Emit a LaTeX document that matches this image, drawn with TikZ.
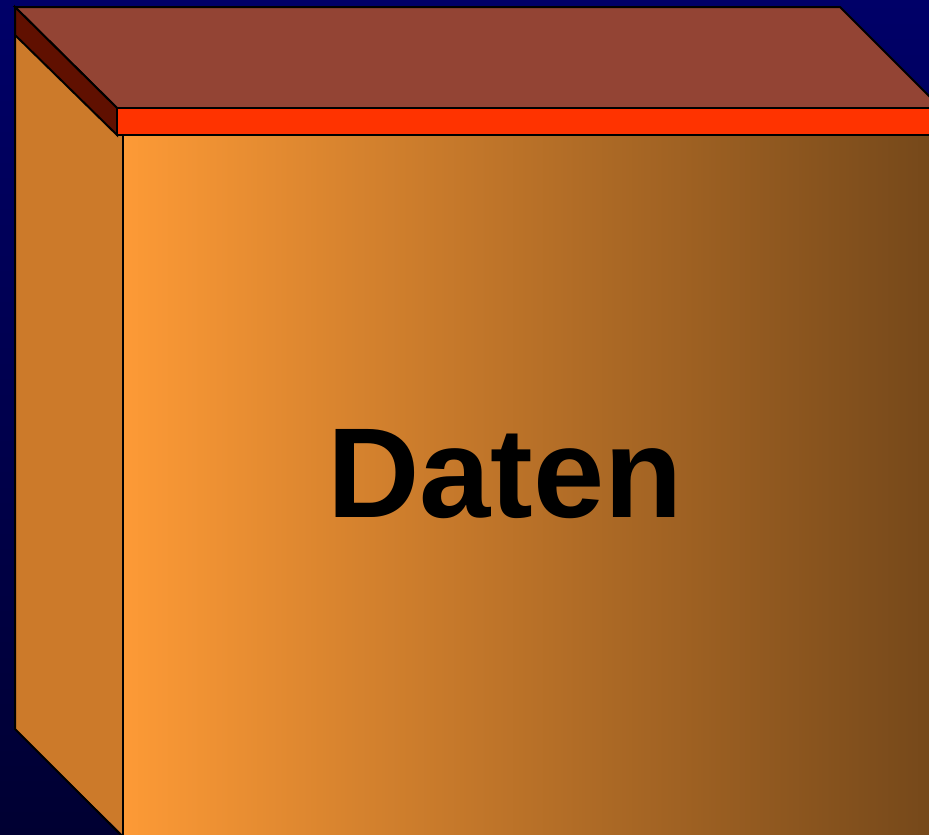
\documentclass[tikz,border=0pt]{standalone}
\usepackage{fontspec}
\setmainfont{Liberation Sans}
\definecolor{bgtop}{RGB}{0,0,104}
\definecolor{bgbot}{RGB}{0,0,50}
\definecolor{topface}{RGB}{147,68,52}
\definecolor{darkstrip}{RGB}{96,16,0}
\definecolor{redstrip}{RGB}{255,51,0}
\definecolor{sideface}{RGB}{204,122,42}
\definecolor{frontL}{RGB}{253,154,54}
\definecolor{frontR}{RGB}{117,72,26}
\tikzset{face/.style={draw=black,line width=2pt,line join=miter}}
\begin{document}
\begin{tikzpicture}[x=1pt,y=-1pt]
\useasboundingbox (0,0) rectangle (929,835);
\clip (0,0) rectangle (929,835);
\shade[top color=bgtop,bottom color=bgbot] (0,0) rectangle (929,835);
% front face
\shade[left color=frontL,right color=frontR] (123,135) rectangle (932,840);
\draw[face] (123,840) -- (123,135) -- (935,135);
% left side face
\fill[sideface] (15,35) -- (117,135) -- (123,135) -- (123,835) -- (15,729) -- cycle;
\draw[face] (15,35) -- (15,729) -- (123,837);
% top face
\path[face,fill=topface] (15,7) -- (840,7) -- (941,108) -- (117,108) -- cycle;
% dark strip
\path[face,fill=darkstrip] (15,7) -- (117,108) -- (117,135) -- (15,35) -- cycle;
% red strip
\path[face,fill=redstrip] (117,108) rectangle (940,135);
\draw[face] (123,135) -- (123,840);
\node[anchor=base,inner sep=0pt,font=\bfseries\fontsize{128}{128}\selectfont] (lbl) at (505,517) {Daten};
\end{tikzpicture}
\end{document}
